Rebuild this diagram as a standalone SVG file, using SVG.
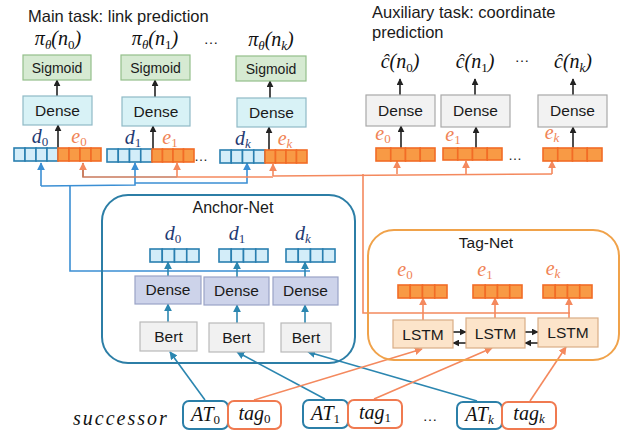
<svg xmlns="http://www.w3.org/2000/svg" width="622" height="431" viewBox="0 0 622 431">
<defs>
<style>
.t{font-family:"Liberation Sans",Arial,sans-serif;fill:#1a1a1a}
.m{font-family:"Liberation Serif","DejaVu Serif",serif;font-style:italic;fill:#111;font-size:20px}
.sub{font-size:13px;font-style:normal}
.subi{font-size:13px}
.dl{fill:#1f3b73}
.el{fill:#f08455}
.sig{fill:#d6ead2;stroke:#93bf8a;stroke-width:1.2}
.dm{fill:#d8f2f6;stroke:#8fb9c6;stroke-width:1.2}
.dx{fill:#f2f2f2;stroke:#a8a8a8;stroke-width:1.2}
.da{fill:#cdd3ea;stroke:#9aa3c6;stroke-width:1.2}
.bert{fill:#f1f1f1;stroke:#b9b9b9;stroke-width:1.2}
.lstm{fill:#fce4ca;stroke:#d9ad85;stroke-width:1.2}
.bc{fill:#d3edf9;stroke:#2a7fb0;stroke-width:1.6}
.oc{fill:#f89a45;stroke:#f26c26;stroke-width:1.6}
.k{stroke:#222;stroke-width:1.6;fill:none}
.bl{stroke:#3b8fd4;stroke-width:1.6;fill:none}
.tl{stroke:#2b86b0;stroke-width:1.6;fill:none}
.ol{stroke:#f4895e;stroke-width:1.6;fill:none}
.br{stroke:#c97a5c;stroke-width:1.6;fill:none}
.at{fill:#fff;stroke:#2b7fa8;stroke-width:2}
.tg{fill:#fff;stroke:#f07a50;stroke-width:2}
</style>
<marker id="ak" viewBox="0 0 10 10" refX="9" refY="5" markerWidth="7" markerHeight="7" markerUnits="userSpaceOnUse" orient="auto"><path d="M0,0 L10,5 L0,10 z" fill="#222"/></marker>
<marker id="ab" viewBox="0 0 10 10" refX="9" refY="5" markerWidth="8" markerHeight="8" markerUnits="userSpaceOnUse" orient="auto"><path d="M0,0 L10,5 L0,10 z" fill="#3b8fd4"/></marker>
<marker id="at" viewBox="0 0 10 10" refX="9" refY="5" markerWidth="8" markerHeight="8" markerUnits="userSpaceOnUse" orient="auto"><path d="M0,0 L10,5 L0,10 z" fill="#2b86b0"/></marker>
<marker id="ao" viewBox="0 0 10 10" refX="9" refY="5" markerWidth="8" markerHeight="8" markerUnits="userSpaceOnUse" orient="auto"><path d="M0,0 L10,5 L0,10 z" fill="#f4895e"/></marker>
</defs>
<rect width="622" height="431" fill="#fff"/>

<!-- headings -->
<text class="t" x="28" y="22" font-size="16.5">Main task: link prediction</text>
<text class="t" x="372" y="18" font-size="16.5">Auxiliary task: coordinate</text>
<text class="t" x="372" y="38" font-size="16.5">prediction</text>

<!-- connectors -->
<g id="connectors">
  <!-- main task vertical arrows -->
  <line class="k" x1="57" y1="96" x2="57" y2="80" marker-end="url(#ak)"/>
  <line class="k" x1="155" y1="97" x2="155" y2="80" marker-end="url(#ak)"/>
  <line class="k" x1="270" y1="98" x2="270" y2="81" marker-end="url(#ak)"/>
  <line class="k" x1="58" y1="148" x2="58" y2="125" marker-end="url(#ak)"/>
  <line class="k" x1="153" y1="149" x2="153" y2="126" marker-end="url(#ak)"/>
  <line class="k" x1="269" y1="150" x2="269" y2="127" marker-end="url(#ak)"/>
  <!-- aux vertical arrows -->
  <line class="k" x1="400" y1="95" x2="400" y2="79" marker-end="url(#ak)"/>
  <line class="k" x1="475" y1="95" x2="475" y2="79" marker-end="url(#ak)"/>
  <line class="k" x1="573" y1="95" x2="573" y2="79" marker-end="url(#ak)"/>
  <line class="k" x1="401" y1="148" x2="401" y2="126" marker-end="url(#ak)"/>
  <line class="k" x1="476" y1="148" x2="476" y2="127" marker-end="url(#ak)"/>
  <line class="k" x1="573" y1="148" x2="573" y2="127" marker-end="url(#ak)"/>

  <!-- blue feed from Anchor-Net to d vectors -->
  <polyline class="bl" points="310,271 70,271 70,186"/>
  <polyline class="bl" points="41,186 135,185 135,163" marker-end="url(#ab)"/>
  <line class="bl" x1="41" y1="186" x2="41" y2="163" marker-end="url(#ab)"/>
  <polyline class="bl" points="135,183 247,183 247,163" marker-end="url(#ab)"/>

  <!-- orange feed from Tag-Net to e vectors -->
  <polyline class="br" points="83,163 83,177 177,177"/>
  <line class="br" x1="83" y1="177" x2="83" y2="163" marker-end="url(#ao)"/>
  <polyline class="ol" points="177,177 273,177"/>
  <line class="ol" x1="177" y1="177" x2="177" y2="163" marker-end="url(#ao)"/>
  <polyline class="ol" points="273,176 552,174"/>
  <line class="ol" x1="273" y1="176" x2="273" y2="164" marker-end="url(#ao)"/>
  <line class="ol" x1="397" y1="174" x2="397" y2="161" marker-end="url(#ao)"/>
  <line class="ol" x1="466" y1="174" x2="466" y2="161" marker-end="url(#ao)"/>
  <line class="ol" x1="552" y1="174" x2="552" y2="161" marker-end="url(#ao)"/>
  <polyline class="ol" points="363,174 363,313 570,313"/>

  <!-- anchor net internal -->
  <line class="tl" x1="168" y1="276" x2="168" y2="262" marker-end="url(#at)"/>
  <line class="tl" x1="237" y1="277" x2="237" y2="262" marker-end="url(#at)"/>
  <line class="tl" x1="305" y1="277" x2="305" y2="262" marker-end="url(#at)"/>
  <line class="tl" x1="168" y1="322" x2="168" y2="304" marker-end="url(#at)"/>
  <line class="tl" x1="237" y1="323" x2="237" y2="305" marker-end="url(#at)"/>
  <line class="tl" x1="305" y1="323" x2="305" y2="305" marker-end="url(#at)"/>

  <!-- tag net internal -->
  <line class="ol" x1="423" y1="320" x2="423" y2="298" marker-end="url(#ao)"/>
  <line class="ol" x1="495" y1="318" x2="495" y2="298" marker-end="url(#ao)"/>
  <line class="ol" x1="569" y1="318" x2="569" y2="298" marker-end="url(#ao)"/>
  <line class="k" x1="453" y1="332" x2="466" y2="332" marker-end="url(#ak)"/>
  <line class="k" x1="466" y1="343" x2="453" y2="343" marker-end="url(#ak)"/>
  <line class="k" x1="525" y1="332" x2="538" y2="332" marker-end="url(#ak)"/>
  <line class="k" x1="538" y1="343" x2="525" y2="343" marker-end="url(#ak)"/>

  <!-- inputs -->
  <line class="tl" x1="205" y1="400" x2="170" y2="352" marker-end="url(#at)"/>
  <line class="tl" x1="325" y1="399" x2="237" y2="352" marker-end="url(#at)"/>
  <line class="tl" x1="477" y1="401" x2="308" y2="352" marker-end="url(#at)"/>
  <line class="ol" x1="254" y1="400" x2="422" y2="349" marker-end="url(#ao)"/>
  <line class="ol" x1="374" y1="399" x2="492" y2="348" marker-end="url(#ao)"/>
  <line class="ol" x1="530" y1="401" x2="566" y2="347" marker-end="url(#ao)"/>
</g>

<!-- main task column 0 -->
<g id="main0">
  <text class="m" x="58" y="45" text-anchor="middle">π<tspan class="subi" dy="4">θ</tspan><tspan dy="-4">(n</tspan><tspan class="sub" dy="4">0</tspan><tspan dy="-4">)</tspan></text>
  <rect class="sig" x="23" y="55" width="68" height="25"/>
  <text class="t" x="57" y="72.5" font-size="14" text-anchor="middle">Sigmoid</text>
  <rect class="dm" x="23" y="96" width="69" height="29"/>
  <text class="t" x="57.5" y="116" font-size="15.5" text-anchor="middle">Dense</text>
  <text class="m dl" x="40" y="143" text-anchor="middle">d<tspan class="sub" dy="3">0</tspan></text>
  <text class="m el" x="79" y="143" text-anchor="middle">e<tspan class="sub" dy="3">0</tspan></text>
  <rect class="bc" x="14" y="148" width="11" height="13"/><rect class="bc" x="25" y="148" width="11" height="13"/><rect class="bc" x="36" y="148" width="11" height="13"/><rect class="bc" x="47" y="148" width="11" height="13"/>
  <rect class="oc" x="58" y="148" width="11" height="13"/><rect class="oc" x="69" y="148" width="11" height="13"/><rect class="oc" x="80" y="148" width="11" height="13"/><rect class="oc" x="91" y="148" width="10" height="13"/>
</g>

<g id="main1">
  <text class="m" x="155" y="45" text-anchor="middle">π<tspan class="subi" dy="4">θ</tspan><tspan dy="-4">(n</tspan><tspan class="sub" dy="4">1</tspan><tspan dy="-4">)</tspan></text>
  <rect class="sig" x="121" y="55" width="69" height="25"/>
  <text class="t" x="155.5" y="72.5" font-size="14" text-anchor="middle">Sigmoid</text>
  <rect class="dm" x="122" y="97" width="68" height="29"/>
  <text class="t" x="156" y="117" font-size="15.5" text-anchor="middle">Dense</text>
  <text class="m dl" x="133" y="144" text-anchor="middle">d<tspan class="sub" dy="3">1</tspan></text>
  <text class="m el" x="170" y="144" text-anchor="middle">e<tspan class="sub" dy="3">1</tspan></text>
  <rect class="bc" x="107" y="149" width="11.25" height="13"/><rect class="bc" x="118.25" y="149" width="11.25" height="13"/><rect class="bc" x="129.5" y="149" width="11.25" height="13"/><rect class="bc" x="140.75" y="149" width="11.25" height="13"/>
  <rect class="oc" x="152" y="149" width="10.5" height="13"/><rect class="oc" x="162.5" y="149" width="10.5" height="13"/><rect class="oc" x="173" y="149" width="10.5" height="13"/><rect class="oc" x="183.5" y="149" width="10.5" height="13"/>
</g>

<g id="maink">
  <text class="t" x="211" y="44" font-size="15" text-anchor="middle">…</text>
  <text class="t" x="201" y="161" font-size="14" text-anchor="middle">…</text>
  <text class="m" x="271" y="46" text-anchor="middle">π<tspan class="subi" dy="4">θ</tspan><tspan dy="-4">(n</tspan><tspan class="subi" dy="4">k</tspan><tspan dy="-4">)</tspan></text>
  <rect class="sig" x="236" y="56" width="70" height="25"/>
  <text class="t" x="271" y="73.5" font-size="14" text-anchor="middle">Sigmoid</text>
  <rect class="dm" x="237" y="98" width="69" height="29"/>
  <text class="t" x="271.5" y="118" font-size="15.5" text-anchor="middle">Dense</text>
  <text class="m dl" x="243" y="145" text-anchor="middle">d<tspan class="subi" dy="3">k</tspan></text>
  <text class="m el" x="285" y="145" text-anchor="middle">e<tspan class="subi" dy="3">k</tspan></text>
  <rect class="bc" x="220" y="150" width="11.25" height="13"/><rect class="bc" x="231.25" y="150" width="11.25" height="13"/><rect class="bc" x="242.5" y="150" width="11.25" height="13"/><rect class="bc" x="253.75" y="150" width="11.25" height="13"/>
  <rect class="oc" x="265" y="150" width="10.5" height="13"/><rect class="oc" x="275.5" y="150" width="10.5" height="13"/><rect class="oc" x="286" y="150" width="10.5" height="13"/><rect class="oc" x="296.5" y="150" width="10.5" height="13"/>
</g>

<!-- auxiliary task -->
<g id="aux0">
  <text class="m" x="400" y="68" text-anchor="middle">ĉ(n<tspan class="sub" dy="4">0</tspan><tspan dy="-4">)</tspan></text>
  <rect class="dx" x="366" y="95" width="69" height="31"/>
  <text class="t" x="400.5" y="116" font-size="15.5" text-anchor="middle">Dense</text>
  <text class="m el" x="383" y="140" text-anchor="middle">e<tspan class="sub" dy="3">0</tspan></text>
  <rect class="oc" x="376" y="148" width="14.75" height="13"/><rect class="oc" x="390.75" y="148" width="14.75" height="13"/><rect class="oc" x="405.5" y="148" width="14.75" height="13"/><rect class="oc" x="420.25" y="148" width="14.75" height="13"/>
</g>
<g id="aux1">
  <text class="m" x="475" y="68" text-anchor="middle">ĉ(n<tspan class="sub" dy="4">1</tspan><tspan dy="-4">)</tspan></text>
  <rect class="dx" x="441" y="95" width="69" height="32"/>
  <text class="t" x="475.5" y="116" font-size="15.5" text-anchor="middle">Dense</text>
  <text class="m el" x="453" y="141" text-anchor="middle">e<tspan class="sub" dy="3">1</tspan></text>
  <rect class="oc" x="443" y="148" width="14.75" height="12"/><rect class="oc" x="457.75" y="148" width="14.75" height="12"/><rect class="oc" x="472.5" y="148" width="14.75" height="12"/><rect class="oc" x="487.25" y="148" width="14.75" height="12"/>
</g>
<g id="auxk">
  <text class="t" x="522" y="62" font-size="15" text-anchor="middle">…</text>
  <text class="t" x="515" y="160" font-size="14" text-anchor="middle">…</text>
  <text class="m" x="573" y="68" text-anchor="middle">ĉ(n<tspan class="subi" dy="4">k</tspan><tspan dy="-4">)</tspan></text>
  <rect class="dx" x="538" y="95" width="69" height="32"/>
  <text class="t" x="572.5" y="116" font-size="15.5" text-anchor="middle">Dense</text>
  <text class="m el" x="552" y="139" text-anchor="middle">e<tspan class="subi" dy="3">k</tspan></text>
  <rect class="oc" x="543" y="148" width="14.75" height="13"/><rect class="oc" x="557.75" y="148" width="14.75" height="13"/><rect class="oc" x="572.5" y="148" width="14.75" height="13"/><rect class="oc" x="587.25" y="148" width="14.75" height="13"/>
</g>

<!-- Anchor-Net -->
<g id="anchor-net">
  <rect x="102" y="195" width="253" height="168" rx="26" ry="26" fill="none" stroke="#2c7ea6" stroke-width="2"/>
  <text class="t" x="233" y="213" font-size="16" text-anchor="middle">Anchor-Net</text>
  <text class="m dl" x="173" y="240" text-anchor="middle">d<tspan class="sub" dy="3">0</tspan></text>
  <text class="m dl" x="237" y="240" text-anchor="middle">d<tspan class="sub" dy="3">1</tspan></text>
  <text class="m dl" x="303" y="240" text-anchor="middle">d<tspan class="subi" dy="3">k</tspan></text>
  <rect class="bc" x="150" y="249" width="12.25" height="13"/><rect class="bc" x="162.25" y="249" width="12.25" height="13"/><rect class="bc" x="174.5" y="249" width="12.25" height="13"/><rect class="bc" x="186.75" y="249" width="12.25" height="13"/>
  <rect class="bc" x="219" y="249" width="12.25" height="13"/><rect class="bc" x="231.25" y="249" width="12.25" height="13"/><rect class="bc" x="243.5" y="249" width="12.25" height="13"/><rect class="bc" x="255.75" y="249" width="12.25" height="13"/>
  <rect class="bc" x="286" y="249" width="12.25" height="13"/><rect class="bc" x="298.25" y="249" width="12.25" height="13"/><rect class="bc" x="310.5" y="249" width="12.25" height="13"/><rect class="bc" x="322.75" y="249" width="12.25" height="13"/>
  <rect class="da" x="135" y="276" width="66" height="28"/>
  <text class="t" x="168" y="295" font-size="15.5" text-anchor="middle">Dense</text>
  <rect class="da" x="204" y="277" width="65" height="28"/>
  <text class="t" x="236.5" y="296" font-size="15.5" text-anchor="middle">Dense</text>
  <rect class="da" x="273" y="277" width="65" height="28"/>
  <text class="t" x="305.5" y="296" font-size="15.5" text-anchor="middle">Dense</text>
  <rect class="bert" x="140" y="322" width="57" height="29"/>
  <text class="t" x="168.5" y="342" font-size="15.5" text-anchor="middle">Bert</text>
  <rect class="bert" x="209" y="323" width="55" height="29"/>
  <text class="t" x="236.5" y="343" font-size="15.5" text-anchor="middle">Bert</text>
  <rect class="bert" x="281" y="323" width="50" height="29"/>
  <text class="t" x="306" y="343" font-size="15.5" text-anchor="middle">Bert</text>
</g>

<!-- Tag-Net -->
<g id="tag-net">
  <rect x="368" y="230" width="251" height="130" rx="26" ry="26" fill="none" stroke="#f0a24a" stroke-width="2"/>
  <text class="t" x="486" y="248" font-size="15.5" text-anchor="middle">Tag-Net</text>
  <text class="m el" x="405" y="276" text-anchor="middle">e<tspan class="sub" dy="3">0</tspan></text>
  <text class="m el" x="485" y="276" text-anchor="middle">e<tspan class="sub" dy="3">1</tspan></text>
  <text class="m el" x="553" y="275" text-anchor="middle">e<tspan class="subi" dy="3">k</tspan></text>
  <rect class="oc" x="398" y="285" width="12.25" height="13"/><rect class="oc" x="410.25" y="285" width="12.25" height="13"/><rect class="oc" x="422.5" y="285" width="12.25" height="13"/><rect class="oc" x="434.75" y="285" width="12.25" height="13"/>
  <rect class="oc" x="473" y="285" width="12.25" height="13"/><rect class="oc" x="485.25" y="285" width="12.25" height="13"/><rect class="oc" x="497.5" y="285" width="12.25" height="13"/><rect class="oc" x="509.75" y="285" width="12.25" height="13"/>
  <rect class="oc" x="543" y="285" width="12.25" height="13"/><rect class="oc" x="555.25" y="285" width="12.25" height="13"/><rect class="oc" x="567.5" y="285" width="12.25" height="13"/><rect class="oc" x="579.75" y="285" width="12.25" height="13"/>
  <rect class="lstm" x="393" y="320" width="60" height="28"/>
  <text class="t" x="423" y="339.5" font-size="15.5" text-anchor="middle">LSTM</text>
  <rect class="lstm" x="466" y="318" width="59" height="30"/>
  <text class="t" x="495.5" y="338.5" font-size="15.5" text-anchor="middle">LSTM</text>
  <rect class="lstm" x="538" y="318" width="60" height="29"/>
  <text class="t" x="568" y="338" font-size="15.5" text-anchor="middle">LSTM</text>
</g>

<!-- inputs -->
<g id="inputs">
  <text class="m" x="73" y="425" font-size="21" letter-spacing="2">successor</text>
  <rect class="at" x="183" y="401" width="45" height="28" rx="6"/>
  <text class="m" x="205.5" y="421" text-anchor="middle">AT<tspan class="sub" dy="3">0</tspan></text>
  <rect class="tg" x="228" y="401" width="53" height="28" rx="6"/>
  <text class="m" x="254.5" y="420" text-anchor="middle">tag<tspan class="sub" dy="3">0</tspan></text>
  <rect class="at" x="303" y="400" width="45" height="28" rx="6"/>
  <text class="m" x="325.5" y="420" text-anchor="middle">AT<tspan class="sub" dy="3">1</tspan></text>
  <rect class="tg" x="348" y="400" width="54" height="28" rx="6"/>
  <text class="m" x="375" y="419" text-anchor="middle">tag<tspan class="sub" dy="3">1</tspan></text>
  <text class="t" x="430" y="421" font-size="15" text-anchor="middle">…</text>
  <rect class="at" x="457" y="402" width="45" height="27" rx="6"/>
  <text class="m" x="479.5" y="421" text-anchor="middle">AT<tspan class="subi" dy="3">k</tspan></text>
  <rect class="tg" x="502" y="402" width="54" height="27" rx="6"/>
  <text class="m" x="529" y="420" text-anchor="middle">tag<tspan class="subi" dy="3">k</tspan></text>
</g>
</svg>
